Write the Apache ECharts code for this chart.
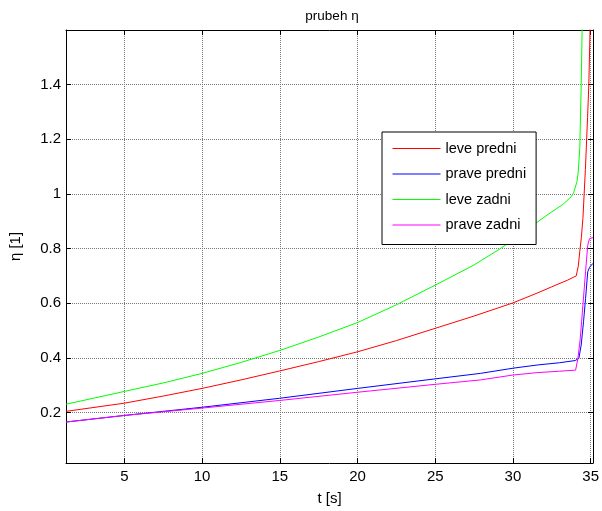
<!DOCTYPE html>
<html>
<head>
<meta charset="utf-8">
<script src="https://cdn.jsdelivr.net/npm/echarts@6/dist/echarts.min.js"></script>
<style>html,body{margin:0;padding:0;background:#fff}#c{width:602px;height:511px}</style>
</head>
<body>
<div id="c"></div>
<script>
var xTicks = [5, 10, 15, 20, 25, 30, 35];
var yTicks = [0.2, 0.4, 0.6, 0.8, 1, 1.2, 1.4];

var tRed = [1.25, 5, 7.5, 10, 12.5, 15, 17.5, 20, 22.5, 25, 27.5, 30, 31.6, 32.5, 33.5, 34.07, 34.2, 34.3, 34.4, 34.5, 34.66, 34.8, 34.88, 34.96, 35.0];
var levePredni = [0.204, 0.234, 0.26, 0.288, 0.319, 0.352, 0.386, 0.422, 0.463, 0.508, 0.553, 0.601, 0.638, 0.66, 0.684, 0.70, 0.735, 0.79, 0.84, 0.91, 1.09, 1.28, 1.4, 1.6, 1.7];

var tBlue = [1.25, 5, 10, 15, 20, 25, 27.9, 30, 31.6, 33, 34.0, 34.24, 34.39, 34.54, 34.67, 34.81, 34.92, 35.03, 35.15];
var pravePredni = [0.165, 0.189, 0.219, 0.252, 0.288, 0.323, 0.343, 0.362, 0.374, 0.382, 0.39, 0.398, 0.447, 0.532, 0.617, 0.715, 0.73, 0.739, 0.745];

var tGreen = [1.25, 5, 7.5, 10, 12.5, 15, 17.5, 20, 22.5, 25, 27.5, 29.2, 29.7, 30.5, 31.52, 32.39, 33.22, 33.75, 33.9, 34.11, 34.2, 34.3, 34.39, 34.45, 34.5];
var leveZadni = [0.230, 0.277, 0.308, 0.343, 0.383, 0.427, 0.476, 0.529, 0.594, 0.666, 0.74, 0.80, 0.82, 0.855, 0.895, 0.93, 0.962, 0.99, 1.004, 1.043, 1.08, 1.17, 1.4, 1.6, 1.75];

var tMag = [1.25, 5, 10, 15, 20, 25, 27.9, 30, 31.6, 33, 34.03, 34.18, 34.33, 34.5, 34.67, 34.81, 34.92, 35.15];
var praveZadni = [0.165, 0.189, 0.216, 0.244, 0.274, 0.303, 0.319, 0.337, 0.346, 0.351, 0.355, 0.398, 0.471, 0.593, 0.715, 0.812, 0.836, 0.84];

var names = ['leve predni', 'prave predni', 'leve zadni', 'prave zadni'];
var colors = ['#ff0000', '#0000ff', '#00ff00', '#ff00ff'];

function zip(a, b) { return a.map(function (v, i) { return [v, b[i]]; }); }

var FONT = 'Liberation Sans, Arial, sans-serif';
var X_MIN = 1.25, X_MAX = 35.15, Y_MIN = 0.015, Y_MAX = 1.6;

var chart = echarts.init(document.getElementById('c'), null, {renderer: 'canvas'});
var axisLine = {show: true, onZero: false, lineStyle: {color: '#000', width: 1}};
var tickStyle = {show: true, inside: true, length: 5, lineStyle: {color: '#000'}};

chart.setOption({
  backgroundColor: '#fff',
  animation: false,
  title: {
    text: 'prubeh η', left: 327, top: 4, textAlign: 'center',
    textStyle: {fontFamily: FONT, fontSize: 13.5, fontWeight: 'normal', color: '#000'}
  },
  grid: {left: 61, right: 8.5, top: 30, bottom: 46, containLabel: false},
  legend: {
    orient: 'vertical', left: 382, top: 132,
    data: names,
    backgroundColor: '#fff', borderColor: '#000', borderWidth: 1,
    padding: [9, 10, 12, 10],
    itemWidth: 48, itemHeight: 14, itemGap: 10.5,
    itemStyle: {opacity: 0},
    lineStyle: {width: 1},
    textStyle: {fontFamily: FONT, fontSize: 14.5, color: '#000'}
  },
  xAxis: [{
    type: 'value', min: X_MIN, max: X_MAX, position: 'bottom',
    name: 't [s]', nameLocation: 'middle', nameGap: 28,
    nameTextStyle: {fontFamily: FONT, fontSize: 15, color: '#000'},
    axisLine: axisLine,
    axisTick: Object.assign({customValues: xTicks}, tickStyle),
    axisLabel: {customValues: xTicks, margin: 6, fontFamily: FONT, fontSize: 15, color: '#000'},
    splitLine: {show: true, lineStyle: {color: '#777', type: 'dotted', width: 1}}
  }, {
    type: 'value', min: X_MIN, max: X_MAX, position: 'top',
    axisLine: axisLine,
    axisTick: Object.assign({customValues: xTicks}, tickStyle),
    axisLabel: {show: false},
    splitLine: {show: false}
  }],
  yAxis: [{
    type: 'value', min: Y_MIN, max: Y_MAX, position: 'left',
    name: 'η [1]', nameLocation: 'middle', nameGap: 43,
    nameTextStyle: {fontFamily: FONT, fontSize: 15, color: '#000'},
    axisLine: axisLine,
    axisTick: Object.assign({customValues: yTicks}, tickStyle),
    axisLabel: {customValues: yTicks, margin: 5, fontFamily: FONT, fontSize: 15, color: '#000'},
    splitLine: {show: true, lineStyle: {color: '#777', type: 'dotted', width: 1}}
  }, {
    type: 'value', min: Y_MIN, max: Y_MAX, position: 'right',
    axisLine: axisLine,
    axisTick: Object.assign({customValues: yTicks}, tickStyle),
    axisLabel: {show: false},
    splitLine: {show: false}
  }],
  series: [
    {name: names[0], data: zip(tRed, levePredni)},
    {name: names[1], data: zip(tBlue, pravePredni)},
    {name: names[2], data: zip(tGreen, leveZadni)},
    {name: names[3], data: zip(tMag, praveZadni)}
  ].map(function (s, i) {
    return Object.assign({
      type: 'line', xAxisIndex: 0, yAxisIndex: 0,
      symbol: 'none', showSymbol: false, clip: true,
      color: colors[i],
      lineStyle: {color: colors[i], width: 1}
    }, s);
  })
});
</script>
</body>
</html>
